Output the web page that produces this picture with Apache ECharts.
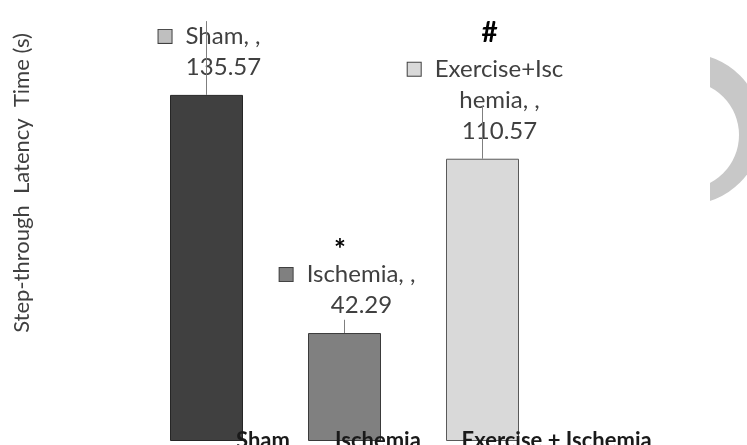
<!DOCTYPE html>
<html>
<head>
<meta charset="utf-8">
<title>Step-through Latency Time</title>
<script src="https://cdn.jsdelivr.net/npm/echarts@6/dist/echarts.min.js"></script>
<style>
  html, body { margin: 0; padding: 0; background: #ffffff; }
  #chart { width: 747px; height: 445px; }
</style>
</head>
<body>
<div id="chart"></div>
<script>
// Groups and mean step-through latency (s)
const categories = ['Sham', 'Ischemia', 'Exercise + Ischemia'];
const latency = [135.57, 42.29, 110.57];
// Upper error (s)
const errors = [28.9, 5.2, 20.6];
// Data-label text lines (name part) and significance markers
const labelLines = [['Sham, ,'], ['Ischemia, ,'], ['Exercise+Isc', 'hemia, ,']];
const markers = ['', '*', '#'];

const barColors = ['#404040', '#808080', '#d9d9d9'];
const barBorders = ['#262626', '#3a3a3a', '#595959'];
const keyColors = ['#bfbfbf', '#808080', '#d9d9d9'];
const FONT = 'Lato, "Open Sans", sans-serif';

const chart = echarts.init(document.getElementById('chart'), null, { renderer: 'canvas' });

const rich = {
  t: { fontFamily: FONT, fontSize: 24, color: '#404040', lineHeight: 31 },
  gap: { width: 14, height: 14 },
  sp: { width: 28, height: 14 }
};
keyColors.forEach((c, i) => {
  rich['key' + i] = {
    width: 13, height: 13, backgroundColor: c,
    borderColor: '#404040', borderWidth: 1, verticalAlign: 'middle'
  };
});

function labelFormatter(p) {
  const i = p.dataIndex;
  const lines = labelLines[i];
  const out = ['{key' + i + '|}{gap|}{t|' + lines[0] + '}'];
  for (let k = 1; k < lines.length; k++) out.push('{sp|}{t|' + lines[k] + '}');
  out.push('{sp|}{t|' + latency[i].toFixed(2) + '}');
  return out.join('\n');
}

// Horizontal shift of each category caption from its bar centre
const captionShift = [29.5, -9.5, -21];
// Marker offsets from the bar top
const markerShift = [[0, 0], [-4.5, -83], [7, -126]];

chart.setOption({
  animation: false,
  backgroundColor: '#ffffff',
  grid: { left: 137.5, right: 195.5, top: 7, bottom: 4, containLabel: false },
  xAxis: {
    type: 'category',
    data: categories,
    axisLine: { show: false },
    axisTick: { show: false },
    axisLabel: { show: false },
    splitLine: { show: false }
  },
  yAxis: {
    type: 'value',
    min: 0,
    max: 170,
    axisLine: { show: false },
    axisTick: { show: false },
    axisLabel: { show: false },
    splitLine: { show: false }
  },
  graphic: [
    {
      type: 'text',
      x: 22, y: 183,
      rotation: Math.PI / 2,
      style: {
        text: 'Step-through  Latency  Time (s)',
        font: '22px ' + FONT,
        fill: '#404040',
        align: 'center',
        verticalAlign: 'middle'
      }
    },
    // grey crescent at the right edge: shaded disc, white disc over it, white mask on the left
    { type: 'circle', z: 0, shape: { cx: 686.5, cy: 129, r: 75.7 }, style: { fill: '#c8c8c8' } },
    { type: 'circle', z: 0, shape: { cx: 684.8, cy: 135, r: 54.2 }, style: { fill: '#ffffff' } },
    { type: 'rect', z: 0, shape: { x: 600, y: 40, width: 110, height: 180 }, style: { fill: '#ffffff' } }
  ],
  series: [
    {
      type: 'bar',
      barWidth: 73,
      z: 2,
      data: latency.map((v, i) => ({
        value: v,
        itemStyle: { color: barColors[i], borderColor: barBorders[i], borderWidth: 1 }
      })),
      label: {
        show: true,
        position: 'top',
        distance: 12,
        offset: [3, 0],
        align: 'center',
        formatter: labelFormatter,
        rich: rich
      }
    },
    {
      // vertical error lines above each bar
      type: 'custom',
      z: 10,
      data: latency.map((v, i) => [i, v, errors[i]]),
      renderItem: function (params, api) {
        const i = api.value(0);
        const base = api.coord([i, api.value(1)]);
        const top = api.coord([i, api.value(1) + api.value(2)]);
        const x = Math.round(base[0]) - 0.5;
        return {
          type: 'line',
          shape: { x1: x, y1: base[1], x2: x, y2: top[1] },
          style: { stroke: '#7f7f7f', lineWidth: 1 }
        };
      }
    },
    {
      // category captions and significance markers
      type: 'custom',
      z: 11,
      data: latency.map((v, i) => [i, v]),
      renderItem: function (params, api) {
        const i = api.value(0);
        const base = api.coord([i, 0]);
        const topPt = api.coord([i, api.value(1)]);
        const children = [{
          type: 'text',
          x: base[0] + captionShift[i],
          y: base[1],
          style: {
            text: categories[i],
            font: 'bold 22px ' + FONT,
            fill: '#1a1a1a',
            align: 'left',
            verticalAlign: 'middle'
          }
        }];
        if (markers[i]) {
          children.push({
            type: 'text',
            x: topPt[0] + markerShift[i][0],
            y: topPt[1] + markerShift[i][1],
            style: {
              text: markers[i],
              font: 'bold 28px ' + FONT,
              fill: '#000000',
              align: 'center',
              verticalAlign: 'middle'
            }
          });
        }
        return { type: 'group', children: children };
      }
    }
  ]
});
</script>
</body>
</html>
